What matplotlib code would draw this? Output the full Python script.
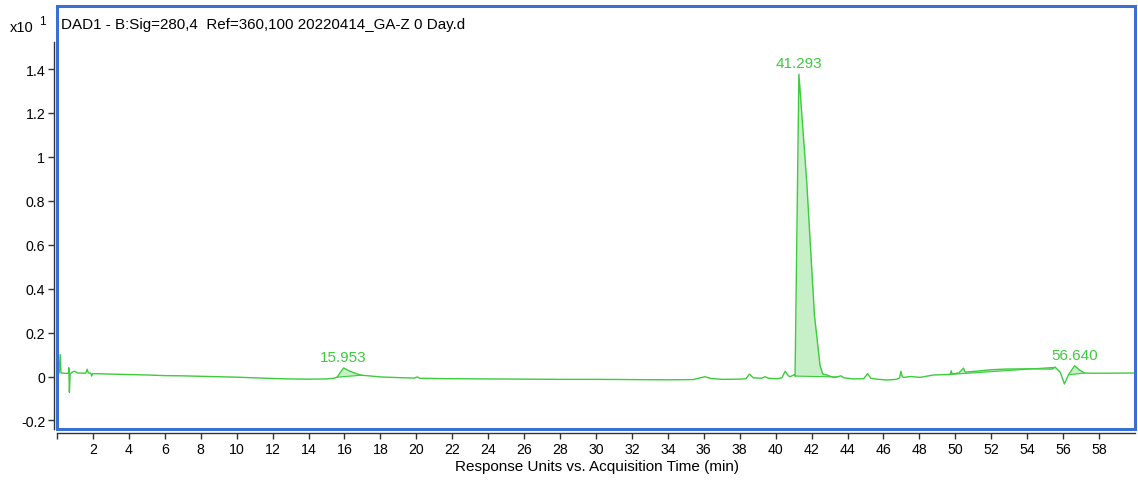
import matplotlib.pyplot as plt
from matplotlib.patches import Rectangle
import numpy as np

plt.rcParams['font.family'] = ['Liberation Sans', 'DejaVu Sans']

# DAD1 trace, response in units of x10^1
tiempo = [0.0, 0.12, 0.18, 0.22, 0.5, 0.64, 0.66, 0.69, 0.73, 0.85, 0.98, 1.15, 1.6, 1.68,
          1.74, 1.88, 1.93, 1.98, 2.5, 3, 4, 5, 6, 7, 8, 9, 10, 11, 12, 13, 14, 15, 15.4,
          15.59, 15.953, 16.3, 16.7, 16.95, 17.5, 18, 19, 19.9, 20.05, 20.2, 21, 22, 24, 26,
          28, 30, 32, 34, 35.4, 35.8, 36.07, 36.4, 37, 38, 38.35, 38.54, 38.75, 39.2, 39.41,
          39.6, 40.06, 40.35, 40.53, 40.7, 40.8, 41.03, 41.08, 41.293, 41.73, 42.16, 42.47,
          42.62, 42.8, 43.0, 43.22, 43.4, 43.63, 43.8, 44.33, 44.9, 45.11, 45.3, 45.6, 46.19,
          46.71, 46.9, 46.97, 47.05, 47.15, 47.49, 48.04, 48.79, 49.2, 49.62, 49.72, 49.77,
          49.82, 50.2, 50.45, 50.55, 51.4, 52.0, 52.87, 54.0, 55.38, 55.56, 55.84, 56.07,
          56.3, 56.64, 56.9, 57.2, 57.5, 58.5, 59.9]
resposta = [0.018, 0.016, 0.100, 0.016, 0.014, 0.015, 0.040, -0.072, 0.012, 0.020, 0.024,
            0.016, 0.015, 0.033, 0.016, 0.015, 0.002, 0.013, 0.012, 0.011, 0.009, 0.007,
            0.004, 0.003, 0.001, -0.001, -0.003, -0.006, -0.009, -0.011, -0.012, -0.011,
            -0.008, -0.003, 0.039, 0.024, 0.012, 0.006, 0.002, -0.002, -0.005, -0.007,
            -0.002, -0.008, -0.009, -0.010, -0.011, -0.012, -0.013, -0.013, -0.014, -0.015,
            -0.014, -0.006, -0.001, -0.009, -0.013, -0.012, -0.010, 0.011, -0.006, -0.008,
            -0.001, -0.008, -0.010, -0.006, 0.024, 0.004, -0.001, 0.008, 0.002, 1.377, 0.884,
            0.277, 0.050, 0.011, 0.008, 0.002, -0.004, -0.002, 0.003, -0.006, -0.011, -0.010,
            0.013, -0.008, -0.012, -0.016, -0.013, -0.006, 0.024, -0.002, -0.004, 0.000,
            -0.004, 0.007, 0.008, 0.009, 0.011, 0.026, 0.012, 0.016, 0.038, 0.020, 0.026,
            0.031, 0.034, 0.035, 0.034, 0.042, 0.019, -0.034, 0.008, 0.049, 0.030, 0.016,
            0.015, 0.015, 0.016]

# integrated regions (start, end) and labelled peaks
regioes = [(15.59, 16.95), (41.08, 43.4), (49.62, 55.56), (56.3, 57.2)]
picos_rt = [15.953, 41.293, 56.640]

verde = '#3ccc3c'
verde_claro = '#c8f0c8'
azul = '#3a6fd4'

W, H = 1138, 481
fig = plt.figure(figsize=(W / 100, H / 100), dpi=100)
ax = fig.add_axes([57 / W, 1 - 430 / H, (1135 - 57) / W, (430 - 7) / H])

t = np.array(tiempo)
r = np.array(resposta)

for a, b in regioes:
    tt = np.concatenate(([a], t[(t > a) & (t < b)], [b]))
    rr = np.interp(tt, t, r)
    base = np.interp(tt, [a, b], [rr[0], rr[-1]])
    ax.fill_between(tt, base, rr, color=verde_claro, lw=0, zorder=1)
    ax.plot([a, b], [rr[0], rr[-1]], color=verde, lw=0.8, zorder=2)

ax.plot(t, r, color=verde, lw=1.0, zorder=3)

for rt in picos_rt:
    ax.annotate(f'{rt:.3f}', (rt, np.interp(rt, t, r)), xytext=(0, 8),
                textcoords='offset points', ha='center', va='center',
                color=verde, fontsize=11)

ax.set_xlim(0, 60)
ax.set_ylim(-0.239, 1.687)

# blue frame around the plot area
ax.add_patch(Rectangle((0, 0), 1, 1, transform=ax.transAxes, fill=False,
                       edgecolor=azul, lw=2.2, clip_on=False, zorder=10))

for s in ['top', 'right']:
    ax.spines[s].set_visible(False)
ax.spines['left'].set_position(('outward', 2.5))
ax.spines['bottom'].set_position(('outward', 3))
ax.spines['left'].set_bounds(-0.239, 1.523)
ax.spines['bottom'].set_bounds(0, 60)
for s in ['left', 'bottom']:
    ax.spines[s].set_color('#333333')
    ax.spines[s].set_linewidth(1.0)

yt = [-0.2, 0, 0.2, 0.4, 0.6, 0.8, 1.0, 1.2, 1.4]
ax.set_yticks(yt)
ax.set_yticklabels(['-0.2', '0', '0.2', '0.4', '0.6', '0.8', '1', '1.2', '1.4'])
xt = list(range(0, 59, 2))
ax.set_xticks(xt)
ax.set_xticklabels([''] + [str(v) for v in xt[1:]])
ax.tick_params(axis='both', direction='out', length=4, width=1, color='#333333',
               labelsize=10.2, pad=2)

ax.text(4 / (1135 - 57), 1 - 18 / (430 - 7), 'DAD1 - B:Sig=280,4  Ref=360,100 20220414_GA-Z 0 Day.d',
        transform=ax.transAxes, ha='left', va='center', fontsize=10.9)

fig.text(10 / W, 1 - 28 / H, 'x10', ha='left', va='center', fontsize=10.5)
fig.text(39 / W, 1 - 22 / H, '1', ha='left', va='center', fontsize=8.5)
fig.text(597 / W, 1 - 467 / H, 'Response Units vs. Acquisition Time (min)',
         ha='center', va='center', fontsize=11)

fig.savefig('out.png', dpi=100)
